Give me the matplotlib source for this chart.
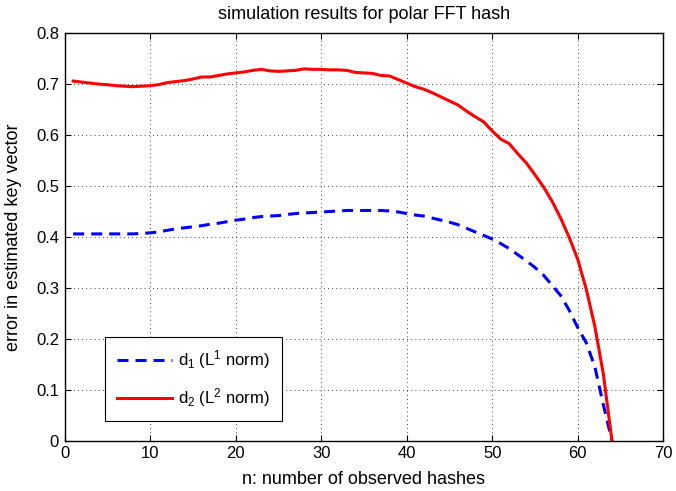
import matplotlib
matplotlib.use("Agg")
import matplotlib.pyplot as plt

plt.rcParams["font.family"] = ["Liberation Sans", "DejaVu Sans"]
plt.rcParams["mathtext.default"] = "regular"

# observed hashes
n_hashes = list(range(1, 65))

# d1, L1 norm error
d1_err = [
    0.406, 0.406, 0.406, 0.406, 0.406, 0.406, 0.406, 0.406, 0.407, 0.408,
    0.410, 0.413, 0.416, 0.418, 0.420, 0.422, 0.425, 0.427, 0.430, 0.433,
    0.435, 0.438, 0.440, 0.441, 0.442, 0.444, 0.446, 0.447, 0.448, 0.449,
    0.450, 0.451, 0.452, 0.452, 0.452, 0.452, 0.452, 0.451, 0.449, 0.446,
    0.443, 0.441, 0.437, 0.433, 0.429, 0.424, 0.417, 0.410, 0.403, 0.396,
    0.387, 0.377, 0.365, 0.353, 0.340, 0.325, 0.305, 0.285, 0.256, 0.222,
    0.192, 0.145, 0.070, 0.000,
]

# d2, L2 norm error
d2_err = [
    0.706, 0.704, 0.702, 0.700, 0.699, 0.697, 0.696, 0.695, 0.696, 0.697,
    0.699, 0.703, 0.705, 0.707, 0.710, 0.714, 0.714, 0.717, 0.720, 0.722,
    0.724, 0.727, 0.729, 0.726, 0.725, 0.726, 0.727, 0.730, 0.729, 0.729,
    0.728, 0.728, 0.727, 0.723, 0.722, 0.721, 0.717, 0.716, 0.709, 0.702,
    0.695, 0.690, 0.683, 0.675, 0.667, 0.659, 0.647, 0.636, 0.626, 0.608,
    0.592, 0.583, 0.563, 0.545, 0.522, 0.498, 0.470, 0.437, 0.399, 0.356,
    0.297, 0.224, 0.130, 0.000,
]

x_ticks = list(range(0, 71, 10))
y_ticks = [0, 0.1, 0.2, 0.3, 0.4, 0.5, 0.6, 0.7, 0.8]
y_tick_labels = ["0", "0.1", "0.2", "0.3", "0.4", "0.5", "0.6", "0.7", "0.8"]

fig = plt.figure(figsize=(6.76, 4.91), dpi=100)
ax = fig.add_axes([0.0956, 0.1024, 0.8856, 0.83])

ax.plot(n_hashes, d1_err, color="#0000ff", lw=2.2, dashes=(3.6, 2.3),
        label=r"d$_1$ (L$^1$ norm)")
ax.plot(n_hashes, d2_err, color="#ff0000", lw=2.2, label=r"d$_2$ (L$^2$ norm)")

ax.set_xlim(0, 70)
ax.set_ylim(0, 0.8)
ax.set_xticks(x_ticks)
ax.set_yticks(y_ticks)
ax.set_yticklabels(y_tick_labels)
ax.grid(True, color="black", linestyle=(0, (1, 4)), linewidth=0.6)
ax.tick_params(direction="in", top=True, right=True, length=4, labelsize=12, pad=4)
for sp in ax.spines.values():
    sp.set_linewidth(1.0)

ax.set_title("simulation results for polar FFT hash", fontsize=13, pad=10.5)
ax.set_xlabel("n: number of observed hashes", fontsize=13, labelpad=7)
ax.set_ylabel("error in estimated key vector", fontsize=13, labelpad=10)

leg = ax.legend(loc="lower left", bbox_to_anchor=(0.0675, 0.049), borderaxespad=0,
                fontsize=12, fancybox=False, framealpha=1, edgecolor="black",
                handlelength=3.3, handletextpad=0.4, borderpad=0.7, labelspacing=0.9)
leg.get_frame().set_linewidth(0.8)

fig.savefig("out.png", dpi=100)
